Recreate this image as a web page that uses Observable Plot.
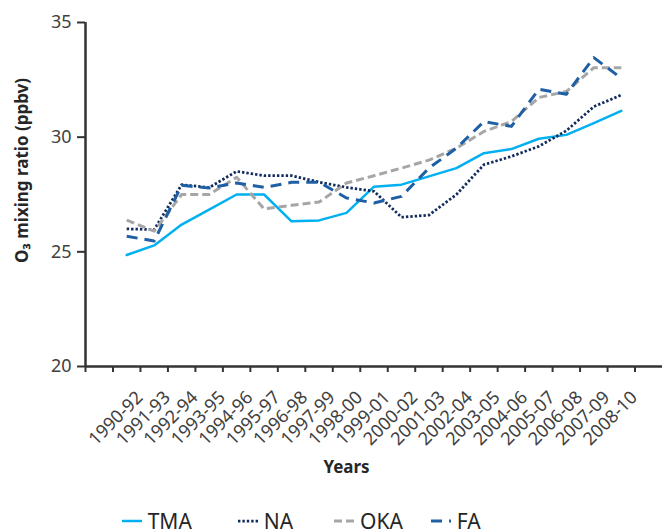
<!DOCTYPE html>
<html>
<head>
<meta charset="utf-8">
<script src="https://cdn.jsdelivr.net/npm/d3@7"></script>
<script src="https://cdn.jsdelivr.net/npm/@observablehq/plot@0.6"></script>
<style>
  body { margin: 0; background: #fff; font-family: "Noto Sans", "Open Sans", sans-serif; }
  #chart { position: relative; width: 662px; }
  #legend { position: relative; width: 662px; height: 32px; font-size: 21px; color: #262626; }
  .item { position: absolute; top: 6px; height: 30px; display: flex; align-items: center; }
  .item svg { margin-right: 6px; }
</style>
</head>
<body>
<div id="chart"></div>
<div id="legend"></div>
<script>
const labels = ["1990-92","1991-93","1992-94","1993-95","1994-96","1995-97","1996-98","1997-99","1998-00","1999-01","2000-02","2001-03","2002-04","2003-05","2004-06","2005-07","2006-08","2007-09","2008-10"];
const tma = [24.86, 25.28, 26.19, 26.84, 27.50, 27.50, 26.33, 26.37, 26.70, 27.84, 27.93, 28.29, 28.65, 29.30, 29.48, 29.93, 30.10, 30.61, 31.15];
const na  = [26.00, 25.97, 27.93, 27.80, 28.51, 28.32, 28.32, 28.04, 27.81, 27.64, 26.51, 26.60, 27.50, 28.80, 29.16, 29.60, 30.28, 31.33, 31.84];
const oka = [26.38, 25.90, 27.50, 27.50, 28.25, 26.87, 27.03, 27.17, 28.00, 28.32, 28.65, 29.00, 29.52, 30.25, 30.68, 31.73, 31.99, 33.03, 33.03];
const fa  = [25.68, 25.47, 27.90, 27.78, 28.00, 27.81, 28.03, 28.04, 27.35, 27.13, 27.42, 28.65, 29.52, 30.68, 30.47, 32.09, 31.87, 33.47, 32.57];
const yTicks = [20, 25, 30, 35];

const series = [
  {name: "TMA", values: tma, stroke: "#00B0F0", width: 2.5, dash: null},
  {name: "NA",  values: na,  stroke: "#112B5C", width: 2.75, dash: "2.4,2"},
  {name: "OKA", values: oka, stroke: "#A6A6A6", width: 3,   dash: "8,4"},
  {name: "FA",  values: fa,  stroke: "#1F5FA5", width: 3,   dash: "11,7"}
];

const n = labels.length;
const xDomain = [-1.5, n + 0.5];
const boundaries = d3.range(-1.5, n, 1);
const axisColor = "#333333";

const chart = Plot.plot({
  width: 662,
  height: 500,
  marginLeft: 85,
  marginRight: 0,
  marginTop: 22,
  marginBottom: 134,
  style: {fontFamily: "'Noto Sans', 'Open Sans', sans-serif", fontSize: "18px", color: "#404040", background: "#fff"},
  x: {type: "linear", domain: xDomain, label: null},
  y: {domain: [yTicks[0], yTicks[yTicks.length - 1]], label: null},
  marks: [
    Plot.axisY({ticks: yTicks, tickSize: 8, tickPadding: 6, tickFormat: d => d, strokeWidth: 2, color: axisColor, fill: "#404040", fontSize: 18, label: null}),
    Plot.axisX({ticks: boundaries, tickSize: 6, tickFormat: () => "", strokeWidth: 2, color: axisColor, label: null}),
    Plot.axisX({ticks: d3.range(n), tickSize: 0, tickPadding: 28, tickRotate: -45, tickFormat: i => labels[i], dx: 13, fill: "#404040", fontSize: 18, label: null}),
    Plot.ruleY([yTicks[0]], {stroke: axisColor, strokeWidth: 2.5}),
    Plot.ruleX([xDomain[0]], {y1: yTicks[0], y2: yTicks[yTicks.length - 1], stroke: axisColor, strokeWidth: 2.5}),
    ...series.map(s => Plot.lineY(s.values, {x: (_, i) => i, y: d => d, stroke: s.stroke, strokeWidth: s.width, strokeDasharray: s.dash, strokeLinecap: s.dash ? "butt" : "round", strokeLinejoin: "round"})),
    Plot.text(["O\u2083 mixing ratio (ppbv)"], {frameAnchor: "left", textAnchor: "middle", dx: -63, dy: -24, rotate: -90, fontWeight: "bold", fontSize: 17, fill: "#262626"}),
    Plot.text(["Years"], {frameAnchor: "bottom", dx: -27.5, dy: 106, fontWeight: "bold", fontSize: 17, fill: "#262626"})
  ]
});
document.getElementById("chart").appendChild(chart);

const legendLefts = [121.7, 237.7, 334, 430.7];
const legend = d3.select("#legend");
series.forEach((s, i) => {
  const item = legend.append("div").attr("class", "item").style("left", legendLefts[i] + "px");
  const sv = item.append("svg").attr("width", 20).attr("height", 6);
  sv.append("line").attr("x1", 0).attr("x2", 20).attr("y1", 3).attr("y2", 3)
    .attr("stroke", s.stroke).attr("stroke-width", s.width).attr("stroke-dasharray", s.dash);
  item.append("span").text(s.name);
});
</script>
</body>
</html>
